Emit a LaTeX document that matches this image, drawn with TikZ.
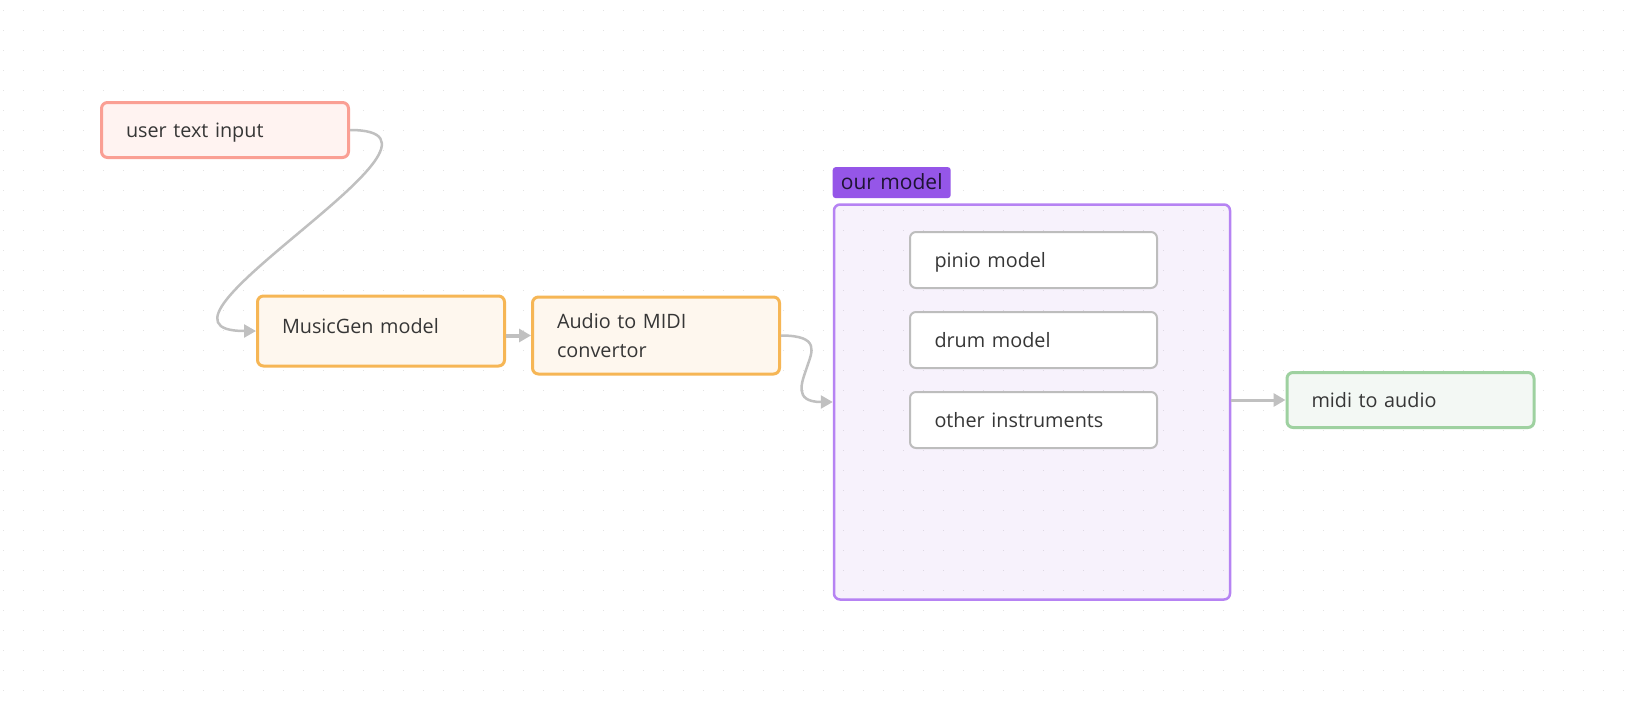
\documentclass[tikz,border=0pt]{standalone}
\usepackage{fontspec}
\setmainfont{Open Sans}
\usepackage{tikz}
\usetikzlibrary{arrows.meta}
\usetikzlibrary{positioning}

\definecolor{inktext}{HTML}{363636}
\definecolor{griddot}{HTML}{E4E4E4}
\definecolor{userdraw}{HTML}{FA9F94}
\definecolor{userfill}{HTML}{FFF3F1}
\definecolor{gendraw}{HTML}{F6B655}
\definecolor{genfill}{HTML}{FEF7EE}
\definecolor{ourdraw}{HTML}{B683F3}
\definecolor{ourtint}{HTML}{9B5DE5}
\definecolor{tagfill}{HTML}{9556E8}
\definecolor{tagtext}{HTML}{1E1433}
\definecolor{subdraw}{HTML}{BDBDBD}
\definecolor{mididraw}{HTML}{9ED1A0}
\definecolor{midifill}{HTML}{F3F8F4}
\definecolor{wiregray}{HTML}{C0C0C0}

\tikzset{
	flowbox/.style={rectangle, rounded corners=6pt, line width=3pt, text=inktext,
		font=\fontsize{19.8}{29.6}\selectfont, inner xsep=24.5pt, inner ysep=0pt,
		text width=198pt, align=left, minimum height=55pt},
	oneline/.style={text height=14pt, text depth=0pt},
	userbox/.style={flowbox, oneline, draw=userdraw, fill=userfill},
	genbox/.style={flowbox, draw=gendraw, fill=genfill},
	subbox/.style={flowbox, oneline, line width=2pt, draw=subdraw, fill=white, minimum height=56pt},
	midibox/.style={flowbox, oneline, draw=mididraw, fill=midifill}
}

\begin{document}
\begin{tikzpicture}[x=1pt,y=-1pt]
	\useasboundingbox (0,0) rectangle (1636,702);
	\fill[white] (0,0) rectangle (1636,702);
	\foreach \i in {0,...,81}
		\foreach \j in {0,...,34}
			\fill[griddot] (3+20*\i,10+20*\j) rectangle ++(1.3,1.3);

	\node[userbox] (user) at (225,130) {user text input};
	\node[genbox, minimum height=70pt, text height=14pt, text depth=9.5pt] (musicgen) at (381,331) {MusicGen model};
	\node[genbox, minimum height=77pt] (audio) at (656,335.5) {Audio to MIDI\\convertor};

	\node[rectangle, rounded corners=6pt, line width=2.5pt, draw=ourdraw, fill=ourtint, fill opacity=0.08,
		draw opacity=1, minimum width=396pt, minimum height=395pt] (ours) at (1032,402) {};
	\node[rectangle, rounded corners=3pt, fill=tagfill, text=tagtext, font=\fontsize{21}{24}\selectfont,
		text height=14pt, text depth=0pt, minimum width=118pt, minimum height=31pt, anchor=south west] (tag) at (832.5,198.3) {our model};

	\begin{scope}[every node/.style={subbox}]
		\node (pinio) at (1033.5,260) {pinio model};
		\node (drum) at (1033.5,340) {drum model};
		\node (other) at (1033.5,420) {other instruments};
	\end{scope}

	\node[midibox] (midi) at (1410.5,400) {midi to audio};

	\begin{scope}[>={Triangle[length=12pt,width=13pt]}, line width=2.5pt]
		\draw[->, wiregray] (user.east) .. controls +(140,0) and +(-140,0) .. (musicgen.west);
		\draw[->, wiregray, line width=4pt] (musicgen.east |- audio.west) -- (audio.west);
		\draw[->, wiregray] (audio.east) .. controls +(40,0) and +(5,-15) .. (807,367)
			.. controls +(-5,15) and +(-40,0) .. (ours.west);
		\draw[->, wiregray, line width=3pt] (ours.east |- midi.west) -- (midi.west);
	\end{scope}
\end{tikzpicture}
\end{document}
